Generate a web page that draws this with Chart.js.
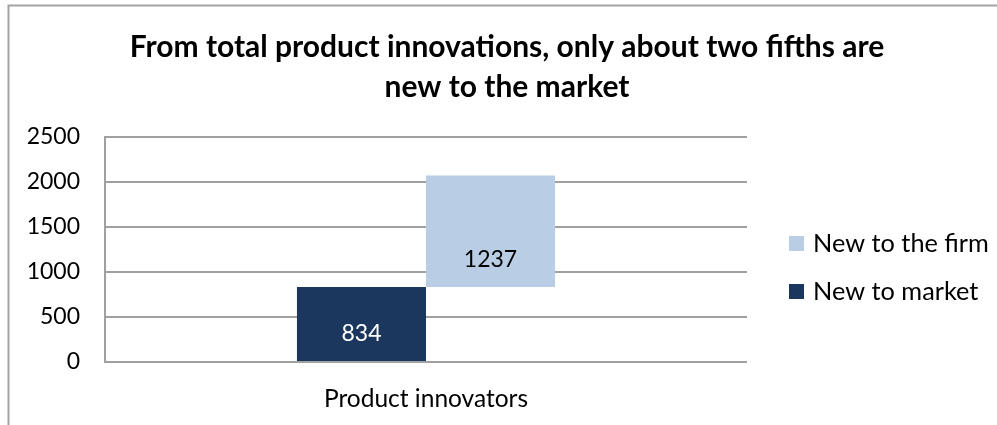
<!DOCTYPE html>
<html>
<head>
<meta charset="utf-8">
<title>Product innovations</title>
<script src="https://cdn.jsdelivr.net/npm/chart.js@4.4.1/dist/chart.umd.min.js"></script>
<style>
  html, body { margin: 0; padding: 0; background: #ffffff; }
  #wrap { position: relative; width: 997px; height: 425px; }
</style>
</head>
<body>
<div id="wrap"><canvas id="chart" width="997" height="425"></canvas></div>
<script>
// Categories, series and axis ticks
const categories = ['Product innovators'];
const seriesNames = ['New to market', 'New to the firm'];
const newToMarket = [834];
const newToFirm = [1237];
const yTicks = [0, 500, 1000, 1500, 2000, 2500];

const titleLines = ['From total product innovations, only about two fifths are', 'new to the market'];

const DARK = '#1b375d';
const LIGHT = '#b9cde5';
const GRID = '#a0a0a0';
const FONT = 'Lato, "Open Sans", sans-serif';

// "New to the firm" floats on top of "New to market"
const firmRange = newToFirm.map((v, i) => [newToMarket[i], newToMarket[i] + v]);

// Outer frame (top and left edges)
const framePlugin = {
  id: 'frame',
  beforeDraw(chart) {
    const ctx = chart.ctx;
    ctx.save();
    ctx.strokeStyle = '#a3a3a3';
    ctx.lineWidth = 2;
    ctx.beginPath();
    ctx.moveTo(8.5, chart.height);
    ctx.lineTo(8.5, 5.5);
    ctx.lineTo(chart.width, 5.5);
    ctx.stroke();
    ctx.restore();
  }
};

// Value labels sitting near the base of each bar
const valueLabels = {
  id: 'valueLabels',
  afterDatasetsDraw(chart) {
    const ctx = chart.ctx;
    const values = [newToMarket, newToFirm];
    const colors = ['#ffffff', '#000000'];
    ctx.save();
    ctx.font = '23px ' + FONT;
    ctx.textAlign = 'center';
    ctx.textBaseline = 'middle';
    chart.data.datasets.forEach((ds, di) => {
      const meta = chart.getDatasetMeta(di);
      meta.data.forEach((bar, i) => {
        ctx.fillStyle = colors[di];
        ctx.fillText(String(values[di][i]), bar.x, bar.base - 27);
      });
    });
    ctx.restore();
  }
};

// Legend on the right, listed top to bottom in stacking order
const sideLegend = {
  id: 'sideLegend',
  afterDraw(chart) {
    const ctx = chart.ctx;
    const area = chart.chartArea;
    const x = area.right + 42;
    const mid = (area.top + area.bottom) / 2 + 18;
    const items = chart.data.datasets.slice().reverse();
    ctx.save();
    ctx.font = '25.3px ' + FONT;
    ctx.textBaseline = 'middle';
    ctx.textAlign = 'left';
    items.forEach((ds, k) => {
      const cy = mid + (k - (items.length - 1) / 2) * 48;
      ctx.fillStyle = ds.backgroundColor;
      ctx.fillRect(x, cy - 7.5, 15, 15);
      ctx.fillStyle = '#000000';
      ctx.fillText(ds.label, x + 24, cy);
    });
    ctx.restore();
  }
};

new Chart(document.getElementById('chart'), {
  type: 'bar',
  data: {
    labels: categories,
    datasets: [
      { label: seriesNames[0], data: newToMarket, backgroundColor: DARK, yAxisID: 'y' },
      { label: seriesNames[1], data: firmRange, backgroundColor: LIGHT, yAxisID: 'y' }
    ]
  },
  options: {
    responsive: false,
    animation: false,
    events: [],
    categoryPercentage: 0.402,
    barPercentage: 1,
    layout: { padding: { left: 17, right: 0, top: 0, bottom: 0 } },
    plugins: {
      legend: { display: false },
      tooltip: { enabled: false },
      title: {
        display: true,
        text: titleLines,
        color: '#000000',
        font: { family: FONT, size: 30, weight: 'bold', lineHeight: '40.6px' },
        padding: { top: 26.7, bottom: 29.1 }
      }
    },
    scales: {
      x: {
        grid: { display: false },
        border: { display: false },
        ticks: { color: '#000000', font: { family: FONT, size: 24.5 }, padding: 14 },
        afterFit(s) { s.height = 63; }
      },
      y: {
        min: yTicks[0],
        max: yTicks[yTicks.length - 1],
        afterBuildTicks(s) { s.ticks = yTicks.map(v => ({ value: v })); },
        grid: { color: GRID, lineWidth: 2, drawTicks: false },
        border: { display: true, color: GRID, width: 2 },
        ticks: {
          color: '#000000',
          font: { family: FONT, size: 23 },
          padding: 25,
          callback: v => String(v)
        },
        afterFit(s) { s.width = 88; }
      },
      // empty band on the right that holds the legend
      legendSpace: {
        type: 'linear',
        position: 'right',
        display: true,
        grid: { display: false },
        border: { display: false },
        ticks: { display: false },
        afterFit(s) { s.width = 250; }
      }
    }
  },
  plugins: [framePlugin, valueLabels, sideLegend]
});
</script>
</body>
</html>
